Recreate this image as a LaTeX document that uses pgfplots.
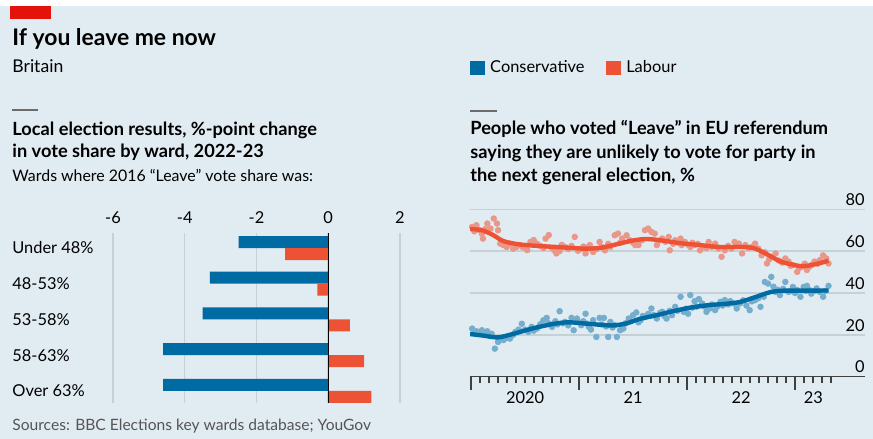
\documentclass[border=0pt]{standalone}
\usepackage{pgfplots}
\pgfplotsset{compat=1.18}
\usepackage{fontspec}
\setmainfont{Lato}
\definecolor{bgc}{HTML}{E1EBF2}
\definecolor{cons}{HTML}{006BA2}
\definecolor{lab}{HTML}{EE5234}
\definecolor{gridc}{HTML}{C6D0D7}
\definecolor{econred}{HTML}{E3120B}
\definecolor{dashc}{HTML}{6B6B6B}
\definecolor{axisc}{HTML}{404040}
\definecolor{srcc}{HTML}{555555}
\colorlet{consdot}{cons!48!bgc}
\colorlet{labdot}{lab!55!bgc}

\pgfplotstableread{
t v
2020.01 71.6
2020.03 69.5
2020.05 72.4
2020.07 70.2
2020.10 68.4
2020.11 66.0
2020.13 70.5
2020.15 73.2
2020.18 70.8
2020.21 75.6
2020.24 73.2
2020.25 70.0
2020.27 63.6
2020.30 62.9
2020.33 62.0
2020.36 63.5
2020.39 61.2
2020.42 62.0
2020.45 62.9
2020.48 61.8
2020.52 60.5
2020.55 64.4
2020.58 65.3
2020.61 63.5
2020.64 62.5
2020.67 61.5
2020.69 66.0
2020.72 67.7
2020.75 61.5
2020.77 60.5
2020.79 58.9
2020.82 60.0
2020.84 63.0
2020.87 62.0
2020.90 61.0
2020.93 62.5
2020.96 66.8
2020.99 60.2
2021.01 61.0
2021.04 62.2
2021.06 58.9
2021.08 61.8
2021.10 62.9
2021.13 59.6
2021.16 61.0
2021.19 64.4
2021.21 62.0
2021.24 60.4
2021.27 63.5
2021.29 62.0
2021.33 67.6
2021.36 68.4
2021.38 64.0
2021.40 66.0
2021.44 67.6
2021.47 65.2
2021.50 64.0
2021.52 62.9
2021.55 62.9
2021.58 65.2
2021.61 70.0
2021.64 70.8
2021.67 69.2
2021.70 68.4
2021.72 62.9
2021.74 65.0
2021.77 66.0
2021.80 64.5
2021.83 66.8
2021.84 60.4
2021.87 63.5
2021.89 65.2
2021.92 64.0
2021.94 66.0
2021.95 62.9
2021.98 64.4
2022.01 63.0
2022.03 62.0
2022.05 64.0
2022.07 62.9
2022.10 63.5
2022.12 60.4
2022.15 62.0
2022.18 61.5
2022.20 64.4
2022.23 62.0
2022.26 63.6
2022.29 61.2
2022.32 57.3
2022.35 60.4
2022.38 62.5
2022.41 61.2
2022.44 64.4
2022.46 62.5
2022.48 63.6
2022.51 58.9
2022.54 62.9
2022.57 61.5
2022.60 62.0
2022.63 63.6
2022.66 61.2
2022.69 58.0
2022.72 59.5
2022.74 54.1
2022.76 56.0
2022.78 57.3
2022.82 58.9
2022.85 55.5
2022.88 54.5
2022.91 56.5
2022.94 55.0
2022.96 53.0
2022.98 53.3
2023.02 50.1
2023.04 52.0
2023.06 52.5
2023.09 54.0
2023.11 51.0
2023.13 52.5
2023.15 53.3
2023.18 55.0
2023.21 54.0
2023.23 55.7
2023.26 58.0
2023.29 56.5
2023.31 54.1
}\labdots

\pgfplotstableread{
t v
2020.01 23.0
2020.03 21.0
2020.05 21.7
2020.08 20.5
2020.10 22.2
2020.12 20.0
2020.15 21.7
2020.17 19.5
2020.19 20.5
2020.22 13.4
2020.25 16.6
2020.28 18.2
2020.30 17.5
2020.33 18.5
2020.36 18.2
2020.39 20.0
2020.41 21.4
2020.44 22.5
2020.47 25.3
2020.50 22.5
2020.53 21.4
2020.56 23.8
2020.58 22.0
2020.61 23.0
2020.64 25.0
2020.67 27.0
2020.70 28.1
2020.72 25.5
2020.75 23.8
2020.78 26.5
2020.80 25.0
2020.82 31.3
2020.85 25.5
2020.87 26.2
2020.90 24.5
2020.93 28.1
2020.95 22.2
2020.98 27.8
2021.00 26.0
2021.02 24.6
2021.04 26.5
2021.06 30.1
2021.07 25.4
2021.09 23.8
2021.11 22.5
2021.13 27.0
2021.16 19.0
2021.19 28.1
2021.21 25.0
2021.23 28.1
2021.25 24.0
2021.27 19.0
2021.29 26.2
2021.31 23.5
2021.33 24.6
2021.35 19.0
2021.38 22.2
2021.41 23.0
2021.43 25.5
2021.46 27.8
2021.48 26.5
2021.50 29.4
2021.53 30.7
2021.55 26.0
2021.57 27.0
2021.59 29.0
2021.61 28.6
2021.64 30.0
2021.67 32.6
2021.69 29.5
2021.72 27.8
2021.75 30.5
2021.77 31.0
2021.79 29.0
2021.81 27.8
2021.84 31.5
2021.86 29.4
2021.89 33.4
2021.91 31.5
2021.94 38.2
2021.97 31.0
2021.99 32.5
2022.01 30.1
2022.03 39.0
2022.05 33.0
2022.07 36.1
2022.09 33.5
2022.11 37.1
2022.14 35.0
2022.16 33.5
2022.18 31.0
2022.21 32.6
2022.23 34.5
2022.26 31.8
2022.28 33.5
2022.31 35.8
2022.33 34.0
2022.35 36.6
2022.38 34.5
2022.40 36.1
2022.43 35.0
2022.46 32.6
2022.49 35.0
2022.52 36.5
2022.55 34.0
2022.58 31.8
2022.60 36.0
2022.63 36.6
2022.66 37.5
2022.68 33.4
2022.71 38.2
2022.72 45.3
2022.75 44.5
2022.78 47.7
2022.80 43.0
2022.82 40.5
2022.84 41.5
2022.86 39.0
2022.89 42.0
2022.91 45.3
2022.94 40.5
2022.96 41.0
2022.98 42.9
2023.00 40.0
2023.02 41.4
2023.05 38.2
2023.08 42.9
2023.10 41.0
2023.11 43.4
2023.13 41.5
2023.15 39.7
2023.18 41.0
2023.20 42.2
2023.23 40.5
2023.26 38.2
2023.28 41.0
2023.31 43.4
}\consdots

\begin{document}
\begin{tikzpicture}
\useasboundingbox (0,0) rectangle (436.5pt,-219.5pt);
\fill[white] (0,0) rectangle (436.5pt,-219.5pt);
\fill[bgc] (0,-3pt) rectangle (436.5pt,-219.5pt);
\fill[econred] (5pt,-3pt) rectangle (25.5pt,-9.5pt);
\node[anchor=base west, inner sep=0pt, font=\fontsize{11.45}{13}\selectfont\bfseries] at (6pt,-22.7pt) {If you leave me now};
\node[anchor=base west, inner sep=0pt, font=\fontsize{8.8}{11}\selectfont] at (6pt,-36.3pt) {Britain};
\draw[dashc, line width=1pt] (6pt,-55pt) -- (19pt,-55pt);
\draw[dashc, line width=1pt] (235pt,-55.5pt) -- (248.5pt,-55.5pt);
\node[anchor=base west, inner sep=0pt, font=\fontsize{9.1}{11}\selectfont\bfseries] at (6pt,-67.5pt) {Local election results, \%-point change};
\node[anchor=base west, inner sep=0pt, font=\fontsize{9.1}{11}\selectfont\bfseries] at (6pt,-78.5pt) {in vote share by ward, 2022-23};
\node[anchor=base west, inner sep=0pt, font=\fontsize{7.95}{10}\selectfont] at (6pt,-90.5pt) {Wards where 2016 “Leave” vote share was:};
\node[anchor=base west, inner sep=0pt, font=\fontsize{9.1}{11}\selectfont\bfseries] at (235pt,-67.2pt) {People who voted “Leave” in EU referendum};
\node[anchor=base west, inner sep=0pt, font=\fontsize{9.1}{11}\selectfont\bfseries] at (235pt,-79pt) {saying they are unlikely to vote for party in};
\node[anchor=base west, inner sep=0pt, font=\fontsize{9.1}{11}\selectfont\bfseries] at (235pt,-90.8pt) {the next general election, \%};
\node[anchor=base west, inner sep=0pt, font=\fontsize{7.8}{10}\selectfont, text=srcc] at (6pt,-215pt) {Sources: BBC Elections key wards database; YouGov};

% Left: bar chart
\begin{axis}[
 at={(56.5pt,-201.5pt)}, anchor=south west,
 width=143.5pt, height=85pt, scale only axis,
 xmin=-6, xmax=2, ymin=-0.42, ymax=4.34, y dir=reverse,
 xbar, bar width=6pt, bar shift=0pt,
 axis line style={draw=none},
 xtick={-6,-4,-2,0,2}, xticklabels={-6,-4,-2,0,2},
 xticklabel pos=upper,
 xticklabel style={anchor=center, yshift=7.5pt, inner sep=0pt},
 ytick={0,1,2,3,4}, yticklabels={Under 48\%,48-53\%,53-58\%,58-63\%,Over 63\%},
 yticklabel style={anchor=west, inner sep=0pt, xshift=-50.5pt},
 tick style={draw=none}, major tick length=0pt,
 xmajorgrids, grid style={gridc, line width=0.75pt},
 ticklabel style={font=\fontsize{8.2}{10}\selectfont},
 clip=false,
]
\addplot[draw=none, fill=cons] coordinates {(-2.5,-0.168) (-3.3,0.832) (-3.5,1.832) (-4.6,2.832) (-4.6,3.832)};
\addplot[draw=none, fill=lab] coordinates {(-1.2,0.168) (-0.3,1.168) (0.6,2.168) (1.0,3.168) (1.2,4.168)};
\draw[black, line width=0.6pt] (axis cs:0,-0.42) -- (axis cs:0,4.34);
\end{axis}

% Right: dots and axes
\begin{axis}[
 at={(235pt,-188.35pt)}, anchor=south west,
 width=197.5pt, height=83.7pt, scale only axis,
 xmin=2019.99, xmax=2023.648, ymin=0, ymax=80,
 axis x line*=bottom, axis y line*=right,
 x axis line style={axisc, line width=0.75pt},
 y axis line style={draw=none},
 ytick={0,20,40,60,80}, yticklabels={0,20,40,60,80},
 ytick style={draw=none},
 yticklabel style={anchor=south east, inner sep=0pt, yshift=1.6pt},
 ymajorgrids, grid style={gridc, line width=0.75pt},
 xtick={2020.5,2021.5,2022.5,2023.17}, xticklabels={2020,21,22,23},
 tick align=outside,
 major tick length=0pt, minor tick length=3.25pt,
 minor xtick={2020.0833,2020.1667,2020.25,2020.3333,2020.4167,2020.5,2020.5833,2020.6667,2020.75,2020.8333,2020.9167,
   2021.0833,2021.1667,2021.25,2021.3333,2021.4167,2021.5,2021.5833,2021.6667,2021.75,2021.8333,2021.9167,
   2022.0833,2022.1667,2022.25,2022.3333,2022.4167,2022.5,2022.5833,2022.6667,2022.75,2022.8333,2022.9167,
   2023.0833,2023.1667,2023.25,2023.3333},
 extra x ticks={2020,2021,2022,2023}, extra x tick labels={},
 extra x tick style={major tick length=6.5pt},
 xtick style={axisc, line width=0.65pt},
 xticklabel style={anchor=center, yshift=-10.65pt, inner sep=0pt},
 ticklabel style={font=\fontsize{8.2}{10}\selectfont},
 legend style={at={(0,1.844)}, anchor=west, draw=none, fill=none, inner sep=0pt,
   font=\fontsize{8.2}{10}\selectfont, legend columns=2,
   nodes={inner sep=0pt},
   /tikz/every odd column/.append style={column sep=2.7pt},
   /tikz/every even column/.append style={column sep=11pt}},
 legend cell align=left,
]
\addlegendimage{legend image code/.code={\fill[cons] (0pt,-3.4pt) rectangle (6.8pt,3.4pt);}}
\addlegendentry{Conservative}
\addlegendimage{legend image code/.code={\fill[lab] (0pt,-3.4pt) rectangle (6.8pt,3.4pt);}}
\addlegendentry{Labour}
\addplot[only marks, mark=*, mark size=1.4pt, color=labdot, forget plot] table {\labdots};
\addplot[only marks, mark=*, mark size=1.4pt, color=consdot, forget plot] table {\consdots};
\end{axis}

% Right: smoothed lines on top
\begin{axis}[
 at={(235pt,-188.35pt)}, anchor=south west,
 width=197.5pt, height=83.7pt, scale only axis,
 xmin=2019.99, xmax=2023.648, ymin=0, ymax=80,
 hide axis,
]
\addplot[lab, line width=2.2pt, smooth] coordinates {
(2019.99,70.6) (2020.10,70.0) (2020.20,67.8) (2020.30,64.8) (2020.45,63.2) (2020.65,62.4) (2020.85,61.8)
(2021.05,61.2) (2021.20,61.6) (2021.35,63.3) (2021.50,65.1) (2021.63,65.8) (2021.78,65.0) (2021.94,63.8)
(2022.10,63.0) (2022.30,62.0) (2022.50,62.0) (2022.62,61.4) (2022.74,58.5) (2022.86,55.2) (2022.98,53.5)
(2023.08,52.8) (2023.20,53.9) (2023.31,55.4)};
\addplot[cons, line width=2.2pt, smooth] coordinates {
(2019.99,20.4) (2020.12,19.6) (2020.25,18.8) (2020.40,20.6) (2020.58,23.2) (2020.76,25.2) (2020.90,26.0)
(2021.06,25.4) (2021.20,24.8) (2021.32,24.5) (2021.44,25.5) (2021.56,27.6) (2021.72,29.4) (2021.87,31.3)
(2022.03,33.0) (2022.20,34.2) (2022.35,34.8) (2022.49,35.7) (2022.63,38.0) (2022.77,40.4) (2022.89,41.1)
(2023.05,41.1) (2023.31,41.2)};
\end{axis}
\end{tikzpicture}
\end{document}
